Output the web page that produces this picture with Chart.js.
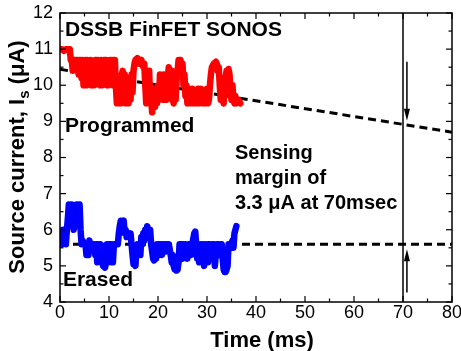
<!DOCTYPE html>
<html>
<head>
<meta charset="utf-8">
<script src="https://cdn.jsdelivr.net/npm/chart.js@4.4.1/dist/chart.umd.min.js"></script>
<style>
  html, body { margin: 0; padding: 0; background: #fff; }
  #wrap { width: 461px; height: 351px; }
</style>
</head>
<body>
<div id="wrap"><canvas id="chart" width="461" height="351"></canvas></div>
<script>
/* Retention trace: programmed vs erased source current */
const timeTicks = [0, 10, 20, 30, 40, 50, 60, 70, 80];
const currentTicks = [4, 5, 6, 7, 8, 9, 10, 11, 12];

// programmed state (red), time in ms, current in uA
const progTime = [0, 0.4, 0.8, 1.2, 1.6, 2.0, 2.2, 2.4, 2.6, 2.8, 3.0, 3.2, 3.4, 3.6, 3.8, 4.0, 4.2, 4.4, 4.6, 4.8,
  5.0, 5.2, 5.4, 5.6, 5.8, 6.0, 6.2, 6.4, 6.6, 6.8, 7.0, 7.2, 7.4, 7.6, 7.8, 8.0, 8.2, 8.4, 8.6, 8.8,
  9.0, 9.2, 9.4, 9.6, 9.8, 10.0, 10.2, 10.4, 10.6, 10.8, 11.0, 11.2, 11.4, 11.6, 11.8, 12.0, 12.2, 12.4, 12.6, 12.8,
  13.0, 13.2, 13.4, 13.6, 13.8, 14.0, 14.2, 14.4, 14.6, 14.8, 15.0, 15.2, 15.4, 15.8, 16.2, 16.6, 17.0, 17.2, 17.4, 17.6,
  17.8, 18.0, 18.2, 18.4, 18.6, 18.8, 19.0, 19.2, 19.4, 19.6, 19.8, 20.0, 20.2, 20.4, 20.6, 20.8, 21.0, 21.2, 21.4, 21.6,
  21.8, 22.0, 22.2, 22.4, 22.6, 22.8, 23.0, 23.2, 23.4, 23.6, 23.8, 24.0, 24.2, 24.6, 24.8, 25.0, 25.2, 25.4, 25.6, 25.8,
  26.0, 26.2, 26.4, 26.8, 27.0, 27.2, 27.4, 27.6, 28.0, 28.2, 28.4, 28.6, 28.8, 29.0, 29.4, 29.6, 29.8, 30.0, 30.2, 30.4,
  30.6, 30.8, 31.0, 31.4, 31.8, 32.0, 32.2, 32.4, 32.6, 32.8, 33.0, 33.2, 33.4, 33.6, 33.8, 34.0, 34.2, 34.4, 34.6, 34.8,
  35.0, 35.2, 35.4, 35.6, 35.8, 36.0, 36.4, 36.8];
const progCurrent = [11.0, 11.0, 10.95, 11.0, 11.0, 11.0, 10.7, 10.7, 10.4, 10.7, 10.7, 10.5, 10.7, 10.7, 10.3, 10.7, 10.7, 10.2, 10.7, 10.0,
  10.0, 10.7, 10.0, 10.7, 10.6, 10.2, 10.7, 10.0, 10.0, 10.6, 10.0, 10.7, 10.7, 10.3, 10.7, 10.6, 10.0, 10.7, 10.0, 10.6,
  10.7, 10.2, 10.7, 10.0, 10.0, 10.6, 10.7, 10.1, 10.7, 10.0, 10.7, 10.7, 10.0, 9.5, 9.5, 10.0, 9.5, 9.5, 10.3, 10.4,
  9.6, 10.3, 9.5, 9.5, 9.9, 9.5, 10.2, 9.6, 10.3, 9.8, 10.4, 10.6, 10.7, 10.75, 10.6, 10.7, 10.5, 10.6, 10.0, 9.5,
  10.2, 9.5, 10.4, 9.5, 9.7, 9.25, 9.5, 9.9, 9.4, 9.9, 9.5, 10.0, 9.6, 10.3, 9.8, 10.2, 9.6, 10.3, 9.6, 9.9,
  9.6, 10.2, 10.5, 10.4, 9.8, 10.4, 9.6, 9.5, 9.9, 9.6, 10.2, 10.4, 10.7, 10.7, 10.4, 10.6, 10.0, 10.3, 9.7, 10.0,
  9.5, 9.9, 9.5, 9.5, 9.9, 9.5, 9.8, 9.5, 9.5, 9.9, 9.5, 9.6, 9.9, 9.5, 9.5, 9.8, 9.5, 9.9, 9.5, 9.6,
  10.0, 10.3, 10.5, 10.6, 10.65, 10.6, 10.4, 10.5, 10.0, 9.6, 10.2, 9.6, 9.5, 9.9, 10.2, 10.4, 10.3, 10.45, 10.3, 9.8,
  9.6, 10.0, 9.6, 9.5, 9.7, 9.5, 9.6, 9.5];

// erased state (blue)
const eraseTime = [0, 0.2, 0.4, 0.6, 0.8, 1.0, 1.2, 1.4, 1.6, 1.8, 2.0, 2.2, 2.4, 2.6, 2.8, 3.0, 3.2, 3.4, 3.6, 3.8,
  4.0, 4.2, 4.4, 4.6, 5.0, 5.2, 5.4, 5.6, 5.8, 6.0, 6.2, 6.6, 7.0, 7.2, 7.4, 7.6, 7.8, 8.0, 8.2, 8.4,
  8.6, 8.8, 9.0, 9.2, 9.4, 9.6, 9.8, 10.0, 10.2, 10.4, 10.6, 10.8, 11.0, 11.4, 11.8, 12.0, 12.2, 12.4, 12.8, 13.0,
  13.2, 13.4, 13.6, 13.8, 14.0, 14.2, 14.4, 14.6, 14.8, 15.0, 15.2, 15.4, 15.6, 15.8, 16.0, 16.2, 16.4, 16.6, 16.8, 17.0,
  17.2, 17.4, 17.6, 17.8, 18.0, 18.2, 18.4, 18.6, 18.8, 19.0, 19.2, 19.4, 19.6, 19.8, 20.0, 20.2, 20.6, 20.8, 21.0, 21.4,
  21.6, 21.8, 22.2, 22.6, 22.8, 23.0, 23.2, 23.4, 23.6, 23.8, 24.0, 24.2, 24.4, 24.8, 25.0, 25.2, 25.4, 25.6, 26.0, 26.2,
  26.6, 26.8, 27.0, 27.4, 27.6, 27.8, 28.0, 28.2, 28.4, 28.6, 28.8, 29.0, 29.2, 29.4, 29.6, 29.8, 30.0, 30.2, 30.6, 30.8,
  31.0, 31.4, 31.6, 31.8, 32.0, 32.4, 32.6, 32.8, 33.0, 33.2, 33.4, 33.6, 33.8, 34.0, 34.2, 34.4, 34.8, 35.0, 35.2, 35.4,
  35.6, 35.8, 36.0];
const eraseCurrent = [5.6, 5.9, 5.6, 6.0, 5.7, 5.9, 5.6, 6.0, 6.3, 6.7, 6.5, 6.7, 6.7, 6.2, 6.0, 6.3, 6.1, 6.7, 6.7, 6.5,
  6.7, 6.0, 5.6, 5.7, 5.6, 5.6, 5.3, 5.6, 5.3, 5.7, 5.6, 5.6, 5.6, 5.3, 5.6, 5.1, 5.6, 5.2, 5.6, 5.1,
  5.5, 5.0, 5.2, 4.95, 5.1, 5.6, 5.1, 5.6, 5.2, 5.6, 5.1, 5.1, 5.6, 5.6, 5.6, 5.9, 6.1, 6.25, 6.2, 6.25,
  5.9, 6.0, 5.8, 5.9, 5.9, 5.8, 5.9, 5.6, 5.3, 5.05, 5.2, 5.0, 5.5, 5.6, 5.4, 5.6, 5.3, 5.8, 5.6, 5.9,
  5.7, 6.0, 5.8, 6.1, 6.0, 5.8, 6.0, 5.6, 5.4, 5.2, 5.15, 5.5, 5.2, 5.6, 5.3, 5.6, 5.6, 5.3, 5.6, 5.6,
  5.4, 5.6, 5.6, 5.3, 5.1, 5.3, 5.0, 4.9, 5.1, 4.87, 4.9, 5.1, 5.6, 5.6, 5.2, 5.6, 5.3, 5.6, 5.2, 5.6,
  5.6, 5.3, 5.6, 5.9, 5.95, 5.6, 5.2, 5.6, 5.1, 5.4, 5.6, 5.2, 5.6, 5.0, 5.4, 5.6, 5.1, 5.6, 5.6, 5.2,
  5.6, 5.6, 5.0, 5.3, 5.6, 5.6, 5.3, 5.6, 5.6, 5.2, 4.9, 4.83, 4.83, 4.9, 5.0, 5.6, 5.6, 5.6, 5.7, 5.5,
  5.9, 6.0, 6.1];

// extrapolation lines
const fitTime = [0, 80];
const progFit = [10.44, 8.70];
const eraseFit = [5.6, 5.6];
const senseTime = [70, 70];
const senseRange = [4, 12];

// arrows at the sensing time
const arrowTime = 70.8;
const downArrow = [10.65, 9.02];
const upArrow = [4.26, 5.46];

const FONT = '"Liberation Sans", Arial, sans-serif';

function pts(xs, ys) { return xs.map((t, i) => ({ x: t, y: ys[i] })); }

function line(ctx, x1, y1, x2, y2) {
  ctx.beginPath(); ctx.moveTo(x1, y1); ctx.lineTo(x2, y2); ctx.stroke();
}

function arrow(ctx, x, y1, y2) {
  const dir = y2 > y1 ? 1 : -1;
  ctx.lineWidth = 1.5;
  line(ctx, x, y1, x, y2 - dir * 8);
  ctx.beginPath();
  ctx.moveTo(x, y2);
  ctx.lineTo(x - 3, y2 - dir * 12);
  ctx.lineTo(x + 3, y2 - dir * 12);
  ctx.closePath();
  ctx.fill();
}

const framePlugin = {
  id: 'frame',
  afterDatasetsDraw(chart) {
    const { ctx, scales: { x, y } } = chart;
    ctx.save();
    ctx.strokeStyle = '#000'; ctx.fillStyle = '#000';
    const ax = x.getPixelForValue(arrowTime);
    arrow(ctx, ax, y.getPixelForValue(downArrow[0]), y.getPixelForValue(downArrow[1]));
    arrow(ctx, ax, y.getPixelForValue(upArrow[0]), y.getPixelForValue(upArrow[1]));
    ctx.restore();
  },
  afterDraw(chart) {
    const { ctx, chartArea: a, scales: { x, y } } = chart;
    ctx.save();
    ctx.strokeStyle = '#000';
    ctx.lineWidth = 1.5;
    ctx.strokeRect(a.left, a.top, a.right - a.left, a.bottom - a.top);
    ctx.lineWidth = 1.2;
    for (let t = 0; t <= 80; t += 5) {
      const px = x.getPixelForValue(t);
      const len = t % 10 === 0 ? 6 : 3.5;
      line(ctx, px, a.bottom, px, a.bottom - len);
      line(ctx, px, a.top, px, a.top + len);
    }
    for (let v = 4; v <= 12; v += 0.5) {
      const py = y.getPixelForValue(v);
      const len = v % 1 === 0 ? 6 : 3.5;
      line(ctx, a.left, py, a.left + len, py);
      line(ctx, a.right, py, a.right - len, py);
    }

    // annotations
    ctx.fillStyle = '#000';
    ctx.textBaseline = 'alphabetic';
    ctx.textAlign = 'left';
    ctx.font = 'bold 21px ' + FONT;
    ctx.fillText('DSSB FinFET SONOS', x.getPixelForValue(1.0), y.getPixelForValue(11.36));
    ctx.fillText('Programmed', x.getPixelForValue(1.0), y.getPixelForValue(8.71));
    ctx.fillText('Erased', x.getPixelForValue(0.6), y.getPixelForValue(4.44));
    const sx = x.getPixelForValue(35.7);
    ctx.font = 'bold 20px ' + FONT;
    ctx.fillText('Sensing', sx, y.getPixelForValue(7.97));
    ctx.fillText('margin of', sx, y.getPixelForValue(7.26));
    ctx.fillText('3.3 \u03bcA at 70msec', sx, y.getPixelForValue(6.57));

    // x title
    ctx.font = 'bold 22px ' + FONT;
    ctx.textAlign = 'center';
    ctx.fillText('Time (ms)', 262, 347);

    // y title with subscript
    const big = 'bold 22px ' + FONT, small = 'bold 15px ' + FONT;
    const p1 = 'Source current, I', p2 = 's', p3 = ' (\u03bcA)';
    ctx.font = big; const w1 = ctx.measureText(p1).width, w3 = ctx.measureText(p3).width;
    ctx.font = small; const w2 = ctx.measureText(p2).width;
    const total = w1 + w2 + w3;
    ctx.translate(24, 157);
    ctx.rotate(-Math.PI / 2);
    ctx.textAlign = 'left';
    let cx = -total / 2;
    ctx.font = big; ctx.fillText(p1, cx, 0); cx += w1;
    ctx.font = small; ctx.fillText(p2, cx, 5); cx += w2;
    ctx.font = big; ctx.fillText(p3, cx, 0);
    ctx.restore();
  }
};

new Chart(document.getElementById('chart'), {
  type: 'scatter',
  data: {
    datasets: [
      { data: pts(progTime, progCurrent), showLine: true, borderColor: '#ff0000', borderWidth: 6.5, pointRadius: 0, borderJoinStyle: 'round', borderCapStyle: 'round' },
      { data: pts(eraseTime, eraseCurrent), showLine: true, borderColor: '#0000ff', borderWidth: 6.5, pointRadius: 0, borderJoinStyle: 'round', borderCapStyle: 'round' },
      { data: pts(fitTime, progFit), showLine: true, borderColor: '#000', borderWidth: 3, borderDash: [8, 5], pointRadius: 0 },
      { data: pts(fitTime, eraseFit), showLine: true, borderColor: '#000', borderWidth: 3, borderDash: [8, 5], pointRadius: 0 },
      { data: pts(senseTime, senseRange), showLine: true, borderColor: '#000', borderWidth: 1.5, pointRadius: 0 }
    ]
  },
  options: {
    responsive: false,
    animation: false,
    events: [],
    layout: { padding: { top: 13, right: 9, left: 0, bottom: 0 } },
    plugins: { legend: { display: false }, tooltip: { enabled: false } },
    scales: {
      x: {
        type: 'linear', min: 0, max: 80,
        afterBuildTicks: s => { s.ticks = timeTicks.map(v => ({ value: v })); },
        afterFit: s => { s.height = 49; s.paddingLeft = 0; s.paddingRight = 0; },
        grid: { display: false, drawTicks: false },
        border: { display: false },
        ticks: { padding: 0, color: '#000', font: { family: FONT, size: 18 } }
      },
      y: {
        type: 'linear', min: 4, max: 12,
        afterBuildTicks: s => { s.ticks = currentTicks.map(v => ({ value: v })); },
        afterFit: s => { s.width = 60; s.paddingTop = 0; s.paddingBottom = 0; },
        grid: { display: false, drawTicks: false },
        border: { display: false },
        ticks: { padding: 7, color: '#000', font: { family: FONT, size: 18 } }
      }
    }
  },
  plugins: [framePlugin]
});
</script>
</body>
</html>
